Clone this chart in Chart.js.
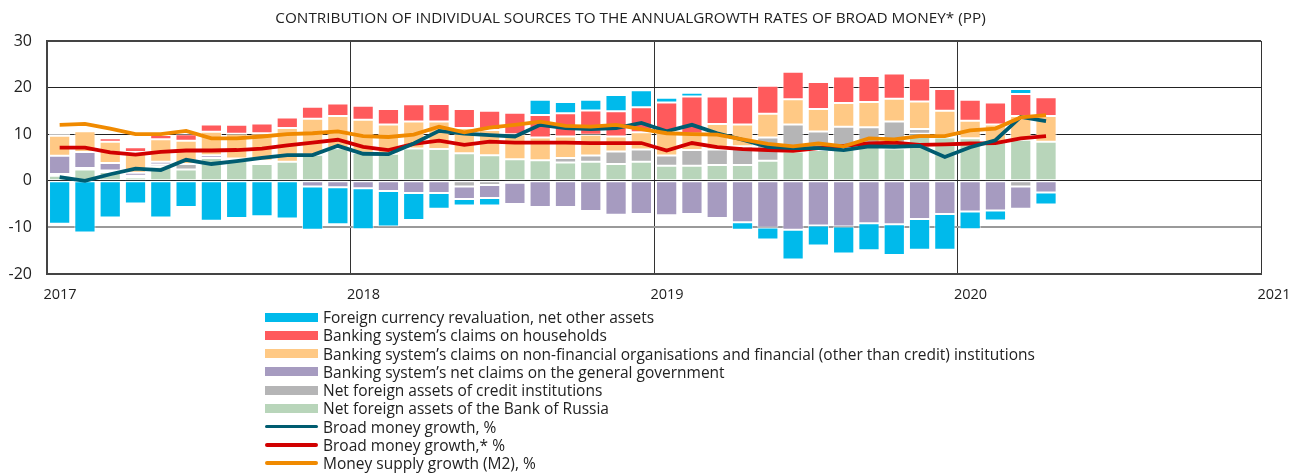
<!DOCTYPE html>
<html>
<head>
<meta charset="utf-8">
<script src="https://cdn.jsdelivr.net/npm/chart.js@4.4.1/dist/chart.umd.min.js"></script>
<style>
  html, body { margin: 0; padding: 0; background: #fff; }
  #wrap { position: relative; width: 1290px; height: 473px; }
  #c { position: absolute; left: 0; top: 0; }
  #legend { position: absolute; left: 265px; top: 308px; font-family: "Open Sans", Lato, sans-serif; font-size: 15.5px; color: #222; }
  .li { height: 18.25px; line-height: 18.25px; display: flex; align-items: center; white-space: nowrap; }
  .sw { width: 53px; margin-right: 5px; flex: none; }
</style>
</head>
<body>
<div id="wrap">
  <canvas id="c" width="1290" height="473"></canvas>
  <div id="legend"></div>
</div>
<script>
const titleText = "CONTRIBUTION OF INDIVIDUAL SOURCES TO THE ANNUALGROWTH RATES OF BROAD MONEY* (PP)";
const startYear = 2017;
const yearTicks = [2017, 2018, 2019, 2020, 2021];
const months = [
  "2017-01","2017-02","2017-03","2017-04","2017-05","2017-06","2017-07","2017-08","2017-09","2017-10","2017-11","2017-12",
  "2018-01","2018-02","2018-03","2018-04","2018-05","2018-06","2018-07","2018-08","2018-09","2018-10","2018-11","2018-12",
  "2019-01","2019-02","2019-03","2019-04","2019-05","2019-06","2019-07","2019-08","2019-09","2019-10","2019-11","2019-12",
  "2020-01","2020-02","2020-03","2020-04"
];
const nfaBankOfRussia = [1.1,2.4,1.9,0.7,3.0,2.4,4.9,4.3,3.6,4.1,5.6,7.0, 6.0,5.8,6.9,6.8,5.9,5.5,4.6,4.4,3.9,4.1,3.6,4.1, 3.2,3.2,3.4,3.4,4.3,6.3,6.6,7.0,7.5,6.9,10.1,9.3, 9.1,8.3,8.8,8.4];
const nfaCreditInst = [0.35,0.35,0.3,0.4,0.5,1.2,0,0.2,0.3,0,0,0, 0,0,0,0,-1.2,-0.9,-0.4,0,1.0,1.3,2.7,2.6, 2.2,3.4,3.3,4.0,5.0,5.8,4.0,4.6,4.0,5.8,1.0,0.2, 0,0,-1.2,0];
const claimsGovt = [3.9,3.4,1.6,0.6,0.6,0,0.6,0.3,0.4,0,-1.2,-1.4, -1.6,-2.2,-2.6,-2.6,-2.7,-2.8,-4.6,-5.6,-5.6,-6.5,-7.3,-7.1, -7.4,-7.1,-8.0,-8.9,-10.0,-10.5,-9.6,-9.8,-9.1,-9.3,-8.2,-7.1, -6.6,-6.4,-4.8,-2.5];
const claimsNonFin = [4.3,4.5,4.6,4.5,4.8,5.0,5.0,5.3,5.9,7.2,7.7,6.9, 7.1,6.3,5.8,5.9,5.4,5.4,5.4,4.9,4.6,4.5,3.2,3.7, 5.1,3.5,5.5,4.7,5.1,5.4,4.8,5.1,5.4,4.9,5.9,5.5, 3.8,3.8,5.1,5.5];
const claimsHouseholds = [0.4,0.35,0.7,1.0,0.9,1.4,1.6,1.9,2.1,2.3,2.6,2.7, 3.0,3.3,3.7,3.8,4.1,4.1,4.6,4.8,5.0,5.2,5.4,5.4, 6.3,8.0,5.9,6.0,6.0,5.9,5.8,5.7,5.6,5.4,5.0,4.7, 4.5,4.7,4.7,4.0];
const fxRevaluation = [-9.2,-11.1,-7.9,-4.9,-7.9,-5.6,-8.6,-8.0,-7.6,-8.1,-9.3,-7.9, -8.8,-7.6,-5.8,-3.4,-1.4,-1.6,-0.2,3.3,2.4,2.3,3.5,3.6, 1.0,0.8,-0.2,-1.6,-2.6,-6.4,-4.3,-5.8,-5.8,-6.6,-6.6,-7.7, -3.8,-2.1,1.1,-2.6];
const broadMoney = [0.8,0,1.4,2.6,2.3,4.5,3.6,4.2,4.9,5.5,5.5,7.5, 5.8,5.7,8.0,10.7,10.1,9.8,9.5,12.0,11.3,11.1,11.3,12.4, 10.6,12.0,10.2,8.8,7.3,7.0,7.0,6.6,7.4,7.3,7.5,5.1, 7.2,8.7,13.7,12.8];
const broadMoneyAdj = [7.1,7.1,6.1,5.6,6.2,6.5,6.5,6.6,6.9,7.6,8.2,8.8, 7.3,6.6,7.9,8.6,7.7,8.4,8.2,8.2,8.2,8.1,8.1,8.1, 6.5,8.1,7.2,6.8,6.6,6.4,7.0,7.5,8.0,8.2,7.7,7.8, 8.0,8.1,9.1,9.6];
const m2Growth = [12.0,12.2,11.2,10.0,10.0,10.7,9.1,9.1,9.5,10.0,10.2,10.6, 9.6,9.4,9.9,11.6,10.4,11.4,12.0,12.7,11.8,11.6,12.0,11.1, 10.2,10.0,9.9,8.9,7.9,7.4,8.0,7.4,9.1,8.9,9.6,9.6, 10.8,11.2,13.6,14.1];

function pts(arr) {
  return arr.map((v, i) => {
    const [y, m] = months[i].split("-").map(Number);
    return { x: (y - startYear) * 12 + (m - 1) + 0.5, y: v };
  });
}

const barDefs = [
  { label: "Net foreign assets of the Bank of Russia", data: nfaBankOfRussia, color: "#B8D5BA" },
  { label: "Net foreign assets of credit institutions", data: nfaCreditInst, color: "#B5B5B6" },
  { label: "Banking system\u2019s net claims on the general government", data: claimsGovt, color: "#A69BC0" },
  { label: "Banking system\u2019s claims on non-financial organisations and financial (other than credit) institutions", data: claimsNonFin, color: "#FFC985" },
  { label: "Banking system\u2019s claims on households", data: claimsHouseholds, color: "#FF5A5C" },
  { label: "Foreign currency revaluation, net other assets", data: fxRevaluation, color: "#00BAEB" }
];
const lineDefs = [
  { label: "Broad money growth, %", data: broadMoney, color: "#005C70", order: 1 },
  { label: "Broad money growth,* %", data: broadMoneyAdj, color: "#D10000", order: 2 },
  { label: "Money supply growth (M2), %", data: m2Growth, color: "#F08A00", order: 0 }
];

const datasets = [];
lineDefs.forEach(d => datasets.push({
  type: "line", label: d.label, data: pts(d.data), borderColor: d.color, backgroundColor: d.color,
  borderWidth: 3.8, pointRadius: 0, tension: 0, order: d.order, stack: "l_" + d.label
}));
barDefs.forEach(d => datasets.push({
  type: "bar", label: d.label, data: pts(d.data), backgroundColor: d.color,
  borderColor: "rgba(255,255,255,0.7)", borderWidth: 1, borderSkipped: false,
  stack: "s", order: 5, barPercentage: 0.84, categoryPercentage: 1
}));

const FONT = "'Open Sans', Lato, sans-serif";

new Chart(document.getElementById("c"), {
  data: { datasets },
  options: {
    responsive: false,
    animation: false,
    layout: { padding: { left: 0, right: 29, top: 0, bottom: 0 } },
    plugins: {
      legend: { display: false },
      tooltip: { enabled: false },
      title: {
        display: true, text: titleText, color: "#222",
        font: { family: FONT, size: 15.3, weight: "normal" },
        padding: { top: 9.5, bottom: 13.1 }
      }
    },
    scales: {
      x: {
        type: "linear", min: 0, max: 48, stacked: true, offset: false,
        afterFit: s => { s.height = 199; },
        afterBuildTicks: s => { s.ticks = yearTicks.map(y => ({ value: (y - startYear) * 12 })); },
        ticks: {
          callback: v => String(startYear + v / 12),
          color: "#222", font: { family: FONT, size: 14.5 }, padding: 12, labelOffset: 13,
          maxRotation: 0, autoSkip: false
        },
        grid: { color: "#333", lineWidth: 1, drawTicks: false, offset: false },
        border: { color: "#444", width: 2 }
      },
      y: {
        stacked: true, min: -20, max: 30,
        afterFit: s => { s.width = 47; },
        ticks: { stepSize: 10, color: "#222", font: { family: FONT, size: 16 }, padding: 15 },
        grid: {
          drawTicks: false,
          color: c => c.tick.value === -10 ? "#9a9a9a" : (c.tick.value === 30 || c.tick.value === -20 ? "#444" : "#222"),
          lineWidth: c => c.tick.value === -10 ? 2 : (c.tick.value === 30 || c.tick.value === -20 ? 2 : 1)
        },
        border: { color: "#444", width: 2 }
      }
    }
  }
});

// HTML legend in the reference order
const legendOrder = [barDefs[5], barDefs[4], barDefs[3], barDefs[2], barDefs[1], barDefs[0]];
const lg = document.getElementById("legend");
legendOrder.forEach(d => {
  const row = document.createElement("div"); row.className = "li";
  const sw = document.createElement("div"); sw.className = "sw";
  sw.style.height = "9px"; sw.style.background = d.color;
  row.appendChild(sw); row.appendChild(document.createTextNode(d.label)); lg.appendChild(row);
});
lineDefs.forEach(d => {
  const row = document.createElement("div"); row.className = "li";
  const sw = document.createElement("div"); sw.className = "sw";
  sw.style.height = "3.5px"; sw.style.borderRadius = "2px"; sw.style.background = d.color;
  row.appendChild(sw); row.appendChild(document.createTextNode(d.label)); lg.appendChild(row);
});
</script>
</body>
</html>
